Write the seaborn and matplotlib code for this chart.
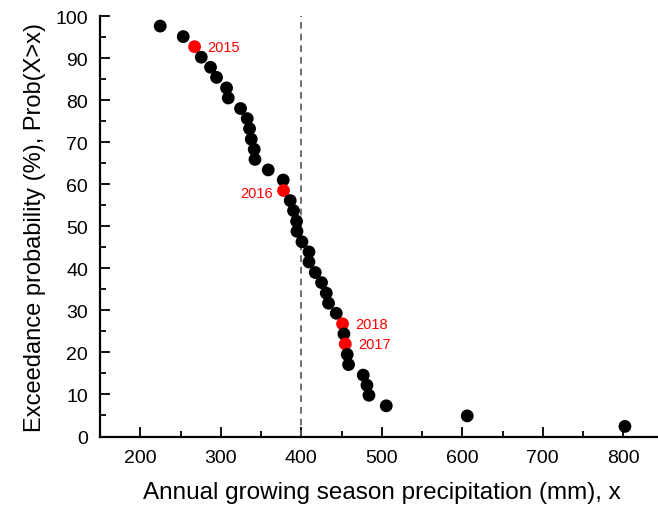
import numpy as np
import pandas as pd
import matplotlib
matplotlib.use("Agg")
import matplotlib.pyplot as plt
import seaborn as sns
from matplotlib.ticker import MultipleLocator

# Annual growing season precipitation (mm), sorted ascending
precip = [224.8, 253.4, 267.5, 275.8, 287.3, 294.8, 307.2, 309.3, 324.6, 332.9,
          335.8, 337.9, 341.6, 342.5, 359.0, 377.6, 378.0, 386.3, 390.4, 394.2,
          394.7, 400.9, 409.6, 409.6, 417.4, 425.2, 431.1, 433.9, 443.5, 451.3,
          453.0, 454.7, 457.1, 458.8, 477.0, 481.6, 484.1, 505.6, 606.2, 802.1]
# Exceedance probability (%)
exceed = [97.6, 95.1, 92.7, 90.2, 87.8, 85.4, 82.9, 80.5, 78.0, 75.6,
          73.2, 70.7, 68.3, 65.9, 63.4, 61.0, 58.5, 56.1, 53.7, 51.2,
          48.8, 46.3, 43.9, 41.5, 39.0, 36.6, 34.1, 31.7, 29.3, 26.8,
          24.4, 22.0, 19.5, 17.1, 14.6, 12.2, 9.8, 7.3, 4.9, 2.4]
# Highlighted years: index into the series above
years = ["2015", "2016", "2018", "2017"]
year_idx = [2, 16, 29, 31]
threshold = 400

df = pd.DataFrame({"precip": precip, "exceed": exceed})
df["year"] = ""
df.loc[year_idx, "year"] = years
df["hl"] = df["year"] != ""

sns.set_style("ticks")
plt.rcParams["font.family"] = ["Liberation Sans", "DejaVu Sans"]
plt.rcParams["text.color"] = "black"
plt.rcParams["axes.labelcolor"] = "black"
plt.rcParams["xtick.labelcolor"] = "black"
plt.rcParams["ytick.labelcolor"] = "black"

fig = plt.figure(figsize=(6.58, 5.10), dpi=100)
ax = fig.add_axes([100 / 658, 1 - 437.5 / 510, 563.5 / 658, 420.5 / 510])

ax.axvline(threshold, color="#555555", linestyle=(0, (4, 3)), linewidth=1.2, zorder=1)

sns.scatterplot(data=df, x="precip", y="exceed", hue="hl",
                palette={False: "black", True: "#ff0000"},
                s=85, edgecolor="none", legend=False, ax=ax, zorder=3)

# year labels
offsets = {"2015": (9, 0, "left"), "2016": (-8, -2, "right"),
           "2018": (9, 0, "left"), "2017": (9, 0, "left")}
for _, r in df[df["hl"]].iterrows():
    dx, dy, ha = offsets[r["year"]]
    ax.annotate(r["year"], (r["precip"], r["exceed"]), xytext=(dx, dy),
                textcoords="offset points", color="#ff0000", fontsize=10.5,
                ha=ha, va="center")

ax.set_xlim(150, 850)
ax.set_ylim(0, 100)
ax.xaxis.set_major_locator(MultipleLocator(100))
ax.xaxis.set_minor_locator(MultipleLocator(50))
ax.yaxis.set_major_locator(MultipleLocator(10))
ax.yaxis.set_minor_locator(MultipleLocator(5))
ax.set_xticks([200, 300, 400, 500, 600, 700, 800])
ax.tick_params(axis="both", which="major", direction="in", length=7, width=1.3,
               labelsize=14, color="black")
ax.tick_params(axis="both", which="minor", direction="in", length=4, width=1.3,
               color="black")
ax.tick_params(axis="x", pad=9)
ax.tick_params(axis="y", pad=8.5)

sns.despine(ax=ax)
for side in ["left", "bottom"]:
    ax.spines[side].set_linewidth(1.6)
    ax.spines[side].set_color("black")

ax.set_xlabel("Annual growing season precipitation (mm), x", fontsize=17.5, labelpad=11)
ax.set_ylabel("Exceedance probability (%), Prob(X>x)", fontsize=17, labelpad=7)

fig.savefig("out.png", dpi=100)
